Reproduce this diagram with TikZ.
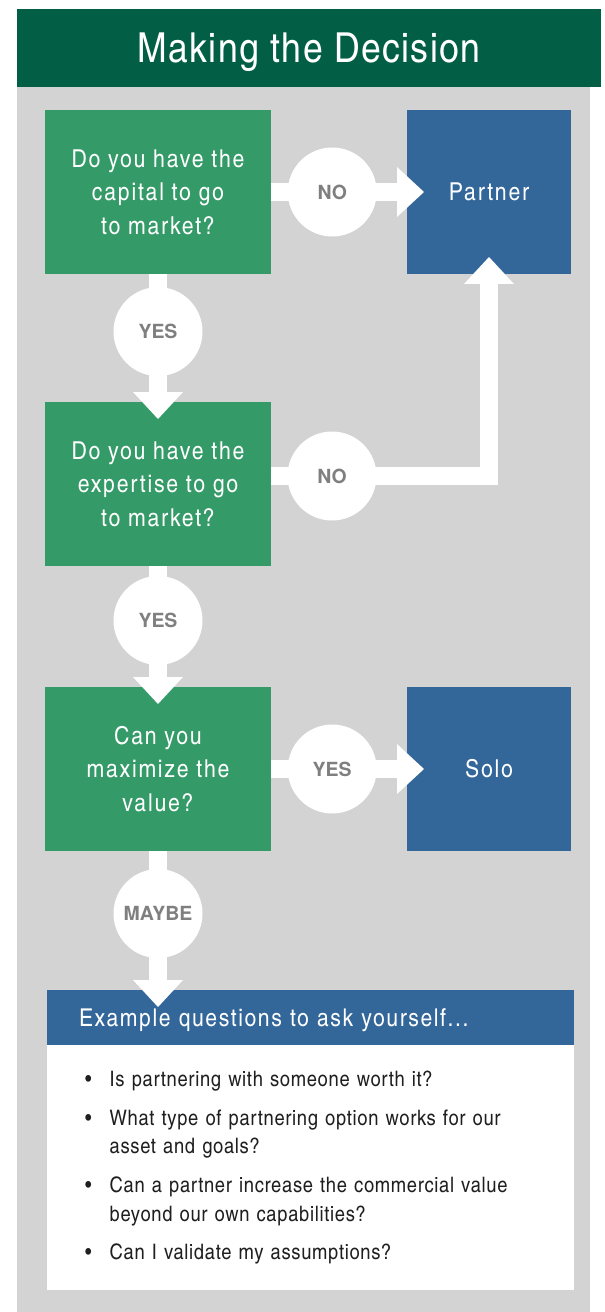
\documentclass[tikz,border=0pt]{standalone}
\usepackage{fontspec}
\setmainfont{texgyreheroscn-regular.otf}[BoldFont=texgyreheroscn-bold.otf,FakeStretch=1.05]
\newfontfamily\labelfont{TeX Gyre Heros}
\usepackage{tikz}
\usetikzlibrary{arrows.meta,positioning,calc}
\definecolor{HeadGreen}{HTML}{025E44}
\definecolor{BoxGreen}{HTML}{349A68}
\definecolor{BoxBlue}{HTML}{336699}
\definecolor{PanelGray}{HTML}{D3D3D3}
\definecolor{LabelGray}{HTML}{7F7F7F}

\begin{document}
\begin{tikzpicture}[x=0.75pt,y=-0.75pt,
  header/.style={fill=HeadGreen,text=white,minimum width=438pt,minimum height=58.5pt,inner sep=0pt,outer sep=0pt,text depth=0pt,font=\fontsize{31}{36}\selectfont\addfontfeature{LetterSpace=3.4}},
  question/.style={fill=BoxGreen,text=white,minimum width=169.5pt,minimum height=123pt,inner sep=0pt,outer sep=0pt,align=center,font=\fontsize{18.5}{25}\selectfont\addfontfeature{LetterSpace=7.2}},
  outcome/.style={fill=BoxBlue,text=white,minimum width=123pt,minimum height=123pt,inner sep=0pt,outer sep=0pt,font=\fontsize{18.5}{25}\selectfont\addfontfeature{LetterSpace=7.2}},
  answer/.style={circle,fill=white,minimum size=66.75pt,inner sep=0pt,text=LabelGray,font=\labelfont\bfseries\fontsize{14.6}{16}\selectfont},
  fat/.style={-{Triangle[width=37.5pt,length=20.25pt,line width=0pt]},line width=13.5pt,draw=white,shorten >=-12.75pt},
  exhead/.style={fill=BoxBlue,text=white,minimum width=395.25pt,minimum height=41.25pt,inner sep=0pt,inner xsep=24pt,outer sep=0pt,text width=347.25pt,align=left,text depth=0pt,font=\fontsize{18.4}{22}\selectfont\addfontfeature{LetterSpace=6.5}},
  exlist/.style={fill=white,text=black!88,minimum width=395.25pt,minimum height=183.75pt,inner sep=0pt,inner xsep=28.5pt,outer sep=0pt,text width=338.25pt,align=left,font=\fontsize{16}{21.4}\selectfont\addfontfeature{LetterSpace=3.2}}
]
% canvas
\fill[white] (0,0) rectangle (604,1312);
\fill[PanelGray] (17,87) rectangle (590,1312);
\node[header] (title) at (309,48) {Making the Decision};

% boxes
\node[question] (q1) at (158,192) {Do you have the\\capital to go\\to market?};
\node[outcome,right=102pt of q1] (partner) {Partner};
\node[question,below=96pt of q1] (q2) {Do you have the\\expertise to go\\to market?};
\node[question,below=90.75pt of q2] (q3) {Can you\\maximize the\\value?};
\node[outcome,right=102pt of q3] (solo) {Solo};
\node[exhead,below=104.25pt of q3.south west,anchor=north west,xshift=1.5pt] (exhead) {Example questions to ask yourself...};
\node[exlist,below=0pt of exhead] (exlist) {%
  \begin{tabular}{@{}p{18.5pt}@{}l@{}}
  \textbullet & Is partnering with someone worth it?\\[7.6pt]
  \textbullet & What type of partnering option works for our\\
              & asset and goals?\\[7.6pt]
  \textbullet & Can a partner increase the commercial value\\
              & beyond our own capabilities?\\[7.6pt]
  \textbullet & Can I validate my assumptions?
  \end{tabular}};

% arrows
\draw[fat] (q1) -- node[answer,pos=0.45] {NO} (partner);
\draw[fat] (q1) -- node[answer,pos=0.45] {YES} (q2);
\draw[fat] ([yshift=6pt]q2.east) -| node[answer,pos=0.14] {NO} (partner);
\draw[fat] (q2) -- node[answer,pos=0.45] {YES} (q3);
\draw[fat] (q3) -- node[answer,pos=0.45] {YES} (solo);
\draw[fat] (q3) -- node[answer,pos=0.45] {MAYBE} (q3 |- exhead.north);
\end{tikzpicture}
\end{document}
